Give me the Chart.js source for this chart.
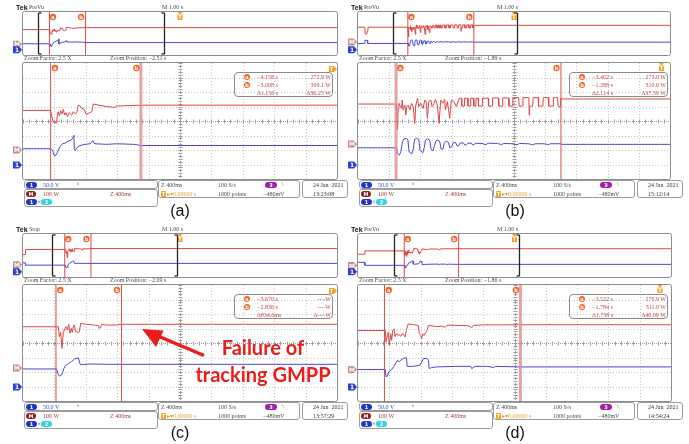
<!DOCTYPE html>
<html><head><meta charset="utf-8">
<script src="https://cdn.jsdelivr.net/npm/chart.js"></script>
<style>
html,body{margin:0;padding:0;background:#fff}
body{width:689px;height:444px;overflow:hidden;position:relative}
canvas{position:absolute}
.s{position:absolute;font:6px/6px "Liberation Serif",serif;color:#4a4a4a;white-space:nowrap}
.bd{position:absolute;height:6px;border-radius:3px;font:bold 5px/6px "DejaVu Sans",sans-serif;color:#fff;text-align:center}
.bx{position:absolute;border:1px solid #9c9c9c;border-radius:3px;box-sizing:border-box;background:#fff}
.lab{position:absolute;width:40px;text-align:center;font:16px/20px "Liberation Sans",Arial,sans-serif;color:#111}
.big{position:absolute;width:220px;text-align:center;font:bold 20px/23px Lato,"Open Sans",sans-serif;color:#ec1c1c}
</style></head><body>
<script>
// ---------- data ----------
const panelLabels = ['(a)','(b)','(c)','(d)'];
const acqModes = ['PreVu','PreVu','Stop','PreVu'];
const zoomPos = [-2.51,-1.89,-2.09,-1.86];          // s
const cursorATime = [-4.158,-3.402,-3.670,-3.522];  // s
const cursorBTime = [-3.008,-1.288,-2.836,-1.784];  // s
const cursorAText = ['−4.158 s','−3.402 s','−3.670 s','−3.522 s'];
const cursorBText = ['−3.008 s','−1.288 s','−2.836 s','−1.784 s'];
const cursorAPower = ['272.9 W','273.0 W','----W','270.9 W'];
const cursorBPower = ['309.1 W','310.6 W','----W','311.0 W'];
const deltaTime = ['Δ1.150 s','Δ2.114 s','Δ834.0ms','Δ1.738 s'];
const deltaPower = ['Δ36.25 W','Δ37.59 W','Δ----W','Δ40.09 W'];
const clockTimes = ['13:23:08','15:12:14','13:57:29','14:54:24'];
const powerRefDiv = [2,2.41,2.28,2.15];   // M (power) ground marker, divisions from bottom
const voltRefDiv = [0.97,0.97,0.97,0.97]; // ch1 ground marker, divisions from bottom

// power traces [time s, W]
const powerA = [[-5,273],[-4.158,273],[-4.15,250],[-4.124,191],[-4.081,186],[-4.073,241],[-4.06,264],[-4.047,234],[-4.03,271],[-4.013,248],[-3.996,281],[-3.979,241],[-3.962,257],[-3.945,230],[-3.92,257],[-3.89,241],[-3.869,264],[-3.848,250],[-3.826,257],[-3.805,310],[-3.78,303],[-3.763,288],[-3.73,282],[-3.707,248],[-3.678,252],[-3.635,264],[-3.614,317],[-3.55,310],[-3.45,300],[-3.35,294],[-3.338,294],[-3.325,303],[-3.2,306],[-3.0,309],[5,309]];
const voltA = [[-5,56],[-4.158,56],[-4.132,50],[-4.115,33],[-4.09,33],[-4.081,39],[-4.06,50],[-4.039,64],[-4.005,73],[-3.975,75],[-3.933,82],[-3.89,87],[-3.869,98],[-3.862,102],[-3.856,56],[-3.843,50],[-3.818,61],[-3.784,67],[-3.72,71],[-3.656,73],[-3.62,84],[-3.605,75],[-3.593,73],[-3.444,71],[-3.317,73],[-3.1,71],[-3.0,67],[5,67]];
const powerB = [[-5,276],[-4.78,276],[-4.77,150],[-4.72,150],[-4.70,200],[-4.68,276],[-3.402,276],[-3.395,200],[-3.383,97],[-3.375,240],[-3.366,281],[-3.345,258],[-3.332,246],[-3.323,304],[-3.311,235],[-3.289,269],[-3.277,200],[-3.264,258],[-3.247,269],[-3.225,235],[-3.204,281],[-3.183,258],[-3.162,143],[-3.149,269],[-3.127,315],[-3.11,258],[-3.085,281],[-3.055,246],[-3.034,304],[-3.015,292],[-3.0,177],[-2.983,292],[-2.957,304],[-2.94,258],[-2.915,281],[-2.897,308],[-2.872,269],[-2.851,143],[-2.829,304],[-2.8,281],[-2.778,308],[-2.77,235],[-2.744,292],[-2.714,177],[-2.693,304],[-2.659,292],[-2.629,258],[-2.608,292],[-2.59,316],[-2.565,316],[-2.56,262],[-2.53,262],[-2.525,316],[-2.485,316],[-2.48,262],[-2.45,262],[-2.445,316],[-2.41,316],[-2.405,262],[-2.38,262],[-2.375,316],[-2.35,316],[-2.345,262],[-2.30,262],[-2.295,316],[-2.22,316],[-2.215,262],[-2.17,262],[-2.165,318],[-2.09,318],[-2.085,262],[-2.04,262],[-2.035,318],[-1.96,318],[-1.955,262],[-1.91,262],[-1.905,320],[-1.83,320],[-1.825,262],[-1.78,262],[-1.775,320],[-1.70,320],[-1.695,200],[-1.69,262],[-1.65,262],[-1.645,320],[-1.58,320],[-1.575,262],[-1.52,262],[-1.515,320],[-1.45,320],[-1.445,262],[-1.39,262],[-1.385,320],[-1.33,320],[-1.325,262],[-1.30,258],[-1.295,316],[-1.288,311],[5,311]];
const voltB = [[-5,59],[-4.79,59],[-4.78,88],[-4.70,88],[-4.69,59],[-3.396,59],[-3.385,40],[-3.36,34],[-3.34,45],[-3.32,80],[-3.30,90],[-3.27,92],[-3.25,86],[-3.235,45],[-3.20,38],[-3.18,55],[-3.165,88],[-3.14,92],[-3.11,88],[-3.095,50],[-3.06,42],[-3.04,60],[-3.025,86],[-3.0,90],[-2.97,86],[-2.955,55],[-2.93,48],[-2.91,66],[-2.89,84],[-2.86,86],[-2.84,78],[-2.825,55],[-2.80,55],[-2.785,75],[-2.76,82],[-2.73,78],[-2.715,60],[-2.69,62],[-2.67,76],[-2.64,78],[-2.62,66],[-2.60,66],[-2.58,76],[-2.54,76],[-2.52,68],[-2.50,70],[-2.48,75],[-2.44,75],[-2.42,69],[-2.40,71],[-2.38,75],[-2.3,74],[-2.25,70],[-2.22,75],[-2.1,74],[-2.05,70],[-2.02,74],[-1.9,73],[-1.85,69],[-1.82,74],[-1.70,73],[-1.65,69],[-1.62,73],[-1.5,73],[-1.45,70],[-1.42,73],[-1.288,73],[-1.28,71],[5,71]];
const powerC = [[-5,190],[-4.93,190],[-4.92,284],[-3.64,284],[-3.627,215],[-3.61,246],[-3.593,135],[-3.576,246],[-3.555,273],[-3.542,284],[-3.525,262],[-3.508,301],[-3.491,239],[-3.474,273],[-3.462,246],[-3.449,284],[-3.436,296],[-3.419,250],[-3.398,246],[-3.372,250],[-3.355,308],[-3.279,301],[-3.194,296],[-3.13,292],[-3.118,273],[-3.101,279],[-3.088,301],[-3.024,296],[-2.897,296],[-2.833,301],[5,301]];
const voltC = [[-5,83],[-4.93,83],[-4.92,62],[-3.661,62],[-3.645,46],[-3.627,37],[-3.597,42],[-3.57,63],[-3.55,74],[-3.513,80],[-3.47,88],[-3.43,97],[-3.385,100],[-3.36,77],[-3.321,77],[-3.236,79],[-3.0,78],[5,78]];
const powerD = [[-5,208],[-4.79,208],[-4.78,271],[-3.511,271],[-3.502,191],[-3.485,237],[-3.472,260],[-3.46,169],[-3.442,248],[-3.43,203],[-3.417,271],[-3.4,283],[-3.387,230],[-3.374,244],[-3.357,248],[-3.345,237],[-3.332,244],[-3.315,230],[-3.298,248],[-3.281,248],[-3.259,226],[-3.238,283],[-3.217,317],[-3.153,312],[-3.089,306],[-3.076,248],[-3.059,237],[-3.046,214],[-3.034,248],[-3.017,237],[-2.991,260],[-2.974,276],[-2.961,306],[-2.855,299],[-2.791,301],[-2.748,294],[-2.727,306],[-2.684,308],[-2.599,306],[-2.471,306],[-2.429,299],[-2.407,290],[-2.386,306],[-2.258,310],[-2.003,310],[-1.784,311],[5,311]];
const voltD = [[-5,88],[-4.79,88],[-4.78,60],[-3.511,60],[-3.502,35],[-3.485,37],[-3.468,52],[-3.451,55],[-3.43,60],[-3.407,69],[-3.374,83],[-3.353,92],[-3.332,86],[-3.315,92],[-3.281,98],[-3.24,101],[-3.232,71],[-3.15,71],[-3.067,75],[-3.046,86],[-3.025,98],[-2.983,98],[-2.961,94],[-2.95,63],[-2.92,67],[-2.855,69],[-2.6,71],[-2.42,71],[-2.407,63],[-2.364,71],[-2.2,71],[-2.13,67],[-2.1,71],[-1.8,69],[5,69]];

const powerTraces = [powerA,powerB,powerC,powerD];
const voltTraces = [voltA,voltB,voltC,voltD];

// ---------- scope settings ----------
const W_DIV = 100, V_DIV = 50, T_DIV_MAIN = 0.4, T_DIV_OV = 1.0;
const layouts = [{ox:0,oy:0,pw:314},{ox:335,oy:0,pw:312},{ox:0,oy:222,pw:314},{ox:335,oy:222,pw:313}];
const activeCursor = ['b','a','','b'];
const RED = '#de4646', BLUE = '#4848d6', CUR = '#cf4d4d', ORANGE = '#f0662a', TRIG = '#f2a21e';

function line(ctx,x1,y1,x2,y2){ctx.beginPath();ctx.moveTo(x1,y1);ctx.lineTo(x2,y2);ctx.stroke();}
function tag(ctx,xr,yc,color,text){
  ctx.save();ctx.fillStyle=color;ctx.beginPath();
  ctx.moveTo(xr-9,yc-3.5);ctx.lineTo(xr-3,yc-3.5);ctx.lineTo(xr,yc);ctx.lineTo(xr-3,yc+3.5);ctx.lineTo(xr-9,yc+3.5);ctx.closePath();ctx.fill();
  ctx.fillStyle='#fff';ctx.font='bold 6px "DejaVu Sans"';ctx.textAlign='center';ctx.textBaseline='middle';ctx.fillText(text,xr-5,yc+0.5);ctx.restore();
}
function circ(ctx,x,y,t){
  ctx.save();ctx.fillStyle=ORANGE;ctx.beginPath();ctx.arc(x,y,3.2,0,Math.PI*2);ctx.fill();
  ctx.fillStyle='#fff';ctx.font='bold 5px "DejaVu Sans"';ctx.textAlign='center';ctx.textBaseline='middle';ctx.fillText(t,x,y+0.3);ctx.restore();
}
function trig(ctx,x,top,offRight){
  ctx.save();ctx.fillStyle=TRIG;
  if(offRight){
    ctx.fillRect(x-7,top+3,5,6);ctx.beginPath();ctx.moveTo(x-2,top+3);ctx.lineTo(x+1,top+6);ctx.lineTo(x-2,top+9);ctx.fill();
    ctx.fillStyle='#fff';ctx.font='bold 5px "DejaVu Sans"';ctx.textAlign='center';ctx.textBaseline='middle';ctx.fillText('T',x-4.5,top+6.3);
  } else {
    ctx.beginPath();ctx.moveTo(x-2.5,top);ctx.lineTo(x+2.5,top);ctx.lineTo(x,top+2.5);ctx.fill();
    ctx.fillRect(x-2.5,top+2.5,5,5.5);
    ctx.fillStyle='#fff';ctx.font='bold 5px "DejaVu Sans"';ctx.textAlign='center';ctx.textBaseline='middle';ctx.fillText('T',x,top+5.5);
  }
  ctx.restore();
}
function rrect(ctx,x,y,w,h,r){ctx.beginPath();ctx.moveTo(x+r,y);ctx.lineTo(x+w-r,y);ctx.quadraticCurveTo(x+w,y,x+w,y+r);ctx.lineTo(x+w,y+h-r);ctx.quadraticCurveTo(x+w,y+h,x+w-r,y+h);ctx.lineTo(x+r,y+h);ctx.quadraticCurveTo(x,y+h,x,y+h-r);ctx.lineTo(x,y+r);ctx.quadraticCurveTo(x,y,x+r,y);ctx.closePath();ctx.stroke();}

function scopePlugin(i,isMain){
  return {
    id:'scope',
    beforeDatasetsDraw(chart){
      if(!isMain) return;
      const {ctx,chartArea:a,scales} = chart; const x=scales.x, y=scales.yP;
      ctx.save();ctx.lineWidth=1;
      ctx.strokeStyle='#c6c6c6';ctx.setLineDash([1,2]);
      for(let k=1;k<10;k++){ if(k===5) continue; const px=Math.round(x.getPixelForValue(x.min+k*T_DIV_MAIN))+0.5; line(ctx,px,a.top,px,a.bottom);}
      for(let k=1;k<8;k++){ if(k===4) continue; const py=Math.round(y.getPixelForValue(y.min+k*W_DIV))+0.5; line(ctx,a.left,py,a.right,py);}
      const cx=Math.round(x.getPixelForValue(x.min+5*T_DIV_MAIN))+0.5, cy=Math.round(y.getPixelForValue(y.min+4*W_DIV))+0.5;
      ctx.strokeStyle='#9c9c9c';ctx.setLineDash([1,1]);
      line(ctx,cx,a.top,cx,a.bottom);line(ctx,a.left,cy,a.right,cy);
      ctx.setLineDash([]);
      for(let k=0;k<=50;k++){const px=Math.round(x.getPixelForValue(x.min+k*T_DIV_MAIN/5))+0.5; line(ctx,px,cy-2,px,cy+2);}
      for(let k=0;k<=40;k++){const py=Math.round(y.getPixelForValue(y.min+k*W_DIV/5))+0.5; line(ctx,cx-2,py,cx+2,py);}
      ctx.restore();
    },
    afterDatasetsDraw(chart){
      const {ctx,chartArea:a,scales} = chart; const x=scales.x;
      ctx.save();ctx.lineWidth=1;ctx.strokeStyle='#8d8d8d';
      rrect(ctx,a.left-0.5,a.top-0.5,a.right-a.left+1,a.bottom-a.top+1,2);
      ctx.restore();
      const xa=x.getPixelForValue(cursorATime[i]), xb=x.getPixelForValue(cursorBTime[i]);
      if(isMain){
        circ(ctx,xa+4.3,a.top+5,'a');circ(ctx,xb-4.5,a.top+5,'b');
        if(x.max>0) trig(ctx,x.getPixelForValue(0),a.top,false); else trig(ctx,a.right-1,a.top,true);
      } else {
        circ(ctx,xa+3.5,a.top+5,'a');circ(ctx,xb-4.5,a.top+5,'b');
        trig(ctx,x.getPixelForValue(0),a.top,false);
        const xl=Math.round(x.getPixelForValue(zoomPos[i]-5*T_DIV_MAIN))+0.5, xr=Math.round(x.getPixelForValue(zoomPos[i]+5*T_DIV_MAIN))+0.5;
        ctx.save();ctx.strokeStyle='#222';ctx.lineWidth=1.3;
        line(ctx,xl,a.top+1,xl,a.bottom-1);line(ctx,xl,a.top+1,xl+3,a.top+1);line(ctx,xl,a.bottom-1,xl+3,a.bottom-1);
        line(ctx,xr,a.top+1,xr,a.bottom-1);line(ctx,xr,a.top+1,xr-3,a.top+1);line(ctx,xr,a.bottom-1,xr-3,a.bottom-1);
        ctx.restore();
      }
      tag(ctx,a.left-1,chart.scales.yP.getPixelForValue(0),'#c58b8b','M');
      tag(ctx,a.left-1,chart.scales.yV.getPixelForValue(0),'#2d3fd0','1');
    }
  };
}

function makeChart(i,isMain){
  const L=layouts[i];
  const cv=document.createElement('canvas');
  const top=isMain?56:0, h=isMain?126:58;
  cv.width=345;cv.height=h;cv.style.left=L.ox+'px';cv.style.top=(L.oy+top)+'px';
  document.body.appendChild(cv);
  const pMin=-powerRefDiv[i]*W_DIV, pMax=pMin+8*W_DIV;
  const vMin=-voltRefDiv[i]*V_DIV, vMax=vMin+8*V_DIV;
  const xMin=isMain?zoomPos[i]-5*T_DIV_MAIN:-5*T_DIV_OV, xMax=isMain?zoomPos[i]+5*T_DIV_MAIN:5*T_DIV_OV;
  const toXY=arr=>arr.map(p=>({x:p[0],y:p[1]}));
  const cur=t=>[{x:t,y:pMin},{x:t,y:pMax}];
  const cStyle=c=>(isMain&&activeCursor[i]===c)?{borderColor:'rgba(226,140,140,0.8)',borderWidth:3}:{borderColor:CUR,borderWidth:1};
  new Chart(cv,{
    type:'line',
    data:{datasets:[
      Object.assign({data:cur(cursorATime[i]),yAxisID:'yP',clip:0},cStyle('a')),
      Object.assign({data:cur(cursorBTime[i]),yAxisID:'yP',clip:0},cStyle('b')),
      {data:toXY(powerTraces[i]),yAxisID:'yP',borderColor:RED,borderWidth:1,clip:0},
      {data:toXY(voltTraces[i]),yAxisID:'yV',borderColor:BLUE,borderWidth:1,clip:0}
    ]},
    options:{
      responsive:false,animation:false,events:[],
      layout:{padding:{left:23,right:345-23-L.pw,top:isMain?7:12,bottom:3}},
      plugins:{legend:{display:false},tooltip:{enabled:false}},
      elements:{point:{radius:0},line:{tension:0}},
      scales:{
        x:{type:'linear',min:xMin,max:xMax,display:false},
        yP:{type:'linear',min:pMin,max:pMax,display:false},
        yV:{type:'linear',min:vMin,max:vMax,display:false}
      }
    },
    plugins:[scopePlugin(i,isMain)]
  });
}

function put(i,cls,x,y,html,style){
  const L=layouts[i];const d=document.createElement('div');d.className=cls;
  d.style.left=(L.ox+x)+'px';d.style.top=(L.oy+y)+'px';
  if(style) d.style.cssText+=style;
  d.innerHTML=html;document.body.appendChild(d);return d;
}

for(let i=0;i<4;i++){
  makeChart(i,false);
  makeChart(i,true);
  put(i,'s',16,4,'Tek','font:bold 7px/7px "Liberation Sans";color:#111');
  put(i,'s',29,4,acqModes[i]);
  put(i,'s',162,4,'M 1.00 s');
  put(i,'s',24,55,'Zoom Factor: 2.5 X');
  put(i,'s',110,55,'Zoom Position: −'+Math.abs(zoomPos[i]).toFixed(2)+' s');
  put(i,'bx',234,72,'','width:99px;height:25px;border-color:#8a8a8a;border-radius:4px;background:transparent');
  const rows=[[cursorAText[i],cursorAPower[i],'a'],[cursorBText[i],cursorBPower[i],'b'],[deltaTime[i],deltaPower[i],'']];
  rows.forEach((r,k)=>{
    const y=73.5+k*8;
    if(r[2]) put(i,'bd',244,y,r[2],'width:6px;background:'+ORANGE);
    put(i,'s',257,y,r[0],'color:#c24848');
    put(i,'s',286,y,r[1],'color:#c24848;width:45px;text-align:right');
  });
  put(i,'bx',24,180,'','width:134px;height:9px');
  put(i,'bx',24,189,'','width:134px;height:18px');
  put(i,'bx',158,180,'','width:142px;height:18px');
  put(i,'bx',302,180,'','width:46px;height:18px');
  put(i,'bd',26,181.5,'1','width:11px;background:#2036c8');
  put(i,'s',43,181.5,'50.0 V','color:#3a48c8');
  put(i,'s',77,181,'ʰ','color:#3a48c8');
  put(i,'bd',26,190.5,'M','width:10px;background:#8e1f1f');
  put(i,'s',43,190.5,'100 W','color:#a83a3a');
  put(i,'s',110,190.5,'Z 400ms','color:#a83a3a');
  put(i,'bd',26,199,'1','width:11px;background:#2036c8');
  put(i,'s',37.5,199,'×','color:#2036c8');
  put(i,'bd',41,199,'2','width:11px;background:#2fd2e6');
  put(i,'s',161,181.5,'Z 400ms');
  put(i,'s',218,181.5,'100 S/s');
  put(i,'bd',265,181.5,'3','width:12px;background:#a21fa8');
  put(i,'s',282,181,'\\');
  put(i,'bd',161,190.5,'T','width:5px;border-radius:1px;background:'+TRIG);
  put(i,'s',167,190.5,'▸▾0.00000 s','color:#e0a030');
  put(i,'s',218,190.5,'1000 points');
  put(i,'s',263,190.5,'−480mV');
  put(i,'s',313,181.5,'24 Jan &nbsp;2021','color:#333');
  put(i,'s',313,190.5,clockTimes[i],'color:#333');
  put(i,'lab',160,201,panelLabels[i]);
}

const ann=document.createElement('div');
ann.innerHTML='<svg width="689" height="444" style="position:absolute;left:0;top:0"><line x1="204" y1="355.5" x2="158" y2="336" stroke="#ec1c1c" stroke-width="3.5"/><polygon points="142,329 163.5,330.5 156,347" fill="#ec1c1c"/></svg>';
document.body.appendChild(ann);
put(2,'big',153,336-222,'Failure of');
put(2,'big',153,363-222,'tracking GMPP');
</script>
</body></html>
